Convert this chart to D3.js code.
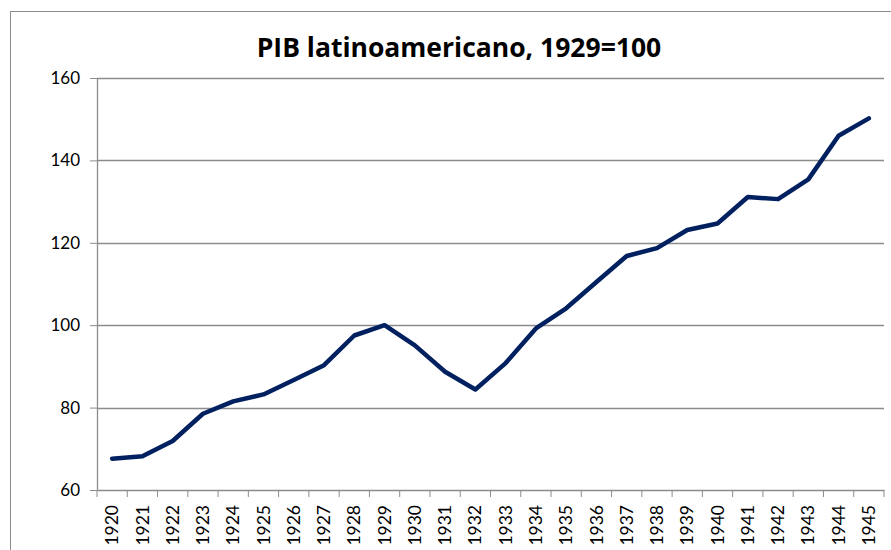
<!DOCTYPE html>
<html>
<head>
<meta charset="utf-8">
<script src="https://cdn.jsdelivr.net/npm/d3@7"></script>
<style>
  body { margin: 0; background: #fff; }
  svg text { font-family: Lato, "Open Sans", sans-serif; }
</style>
</head>
<body>
<div id="chart"></div>
<script>
// data
var years = ["1920", "1921", "1922", "1923", "1924", "1925", "1926", "1927", "1928", "1929",
  "1930", "1931", "1932", "1933", "1934", "1935", "1936", "1937", "1938", "1939",
  "1940", "1941", "1942", "1943", "1944", "1945"];
var pib = [67.6, 68.2, 71.9, 78.5, 81.5, 83.2, 86.7, 90.3, 97.5, 100,
  95.1, 88.7, 84.4, 90.8, 99.2, 104.1, 110.5, 116.8, 118.7, 123.1,
  124.7, 131.1, 130.6, 135.4, 146.0, 150.2];
var yTicks = [60, 80, 100, 120, 140, 160];

var svgWidth = 891;
var svgHeight = 550;
var margin = { top: 78, right: 7, bottom: 60, left: 97 };
var width = svgWidth - margin.left - margin.right;
var height = svgHeight - margin.top - margin.bottom;

var svg = d3.select("#chart")
  .append("svg")
  .attr("width", svgWidth)
  .attr("height", svgHeight);

// chart frame
svg.append("rect")
  .attr("x", 10.5)
  .attr("y", 11.5)
  .attr("width", 900)
  .attr("height", 600)
  .attr("fill", "none")
  .attr("stroke", "#8c8c8c")
  .attr("stroke-width", 1);

svg.append("text")
  .attr("x", 459)
  .attr("y", 57)
  .attr("text-anchor", "middle")
  .style("font-family", "'Open Sans', sans-serif")
  .style("font-size", "26.5px")
  .style("font-weight", "bold")
  .text("PIB latinoamericano, 1929=100");

var chartGroup = svg.append("g")
  .attr("transform", `translate(${margin.left}, ${margin.top})`);

var xScale = d3.scaleBand()
  .domain(years)
  .range([0, width]);

var yScale = d3.scaleLinear()
  .domain([60, 160])
  .range([height, 0]);

// gridlines
chartGroup.selectAll(".grid")
  .data(yTicks.slice(1))
  .enter()
  .append("line")
  .attr("x1", 0)
  .attr("x2", width)
  .attr("y1", d => Math.round(yScale(d)) + 0.5)
  .attr("y2", d => Math.round(yScale(d)) + 0.5)
  .attr("stroke", "#8c8c8c")
  .attr("stroke-width", 1.3);

// y axis
var leftAxis = d3.axisLeft(yScale)
  .tickValues(yTicks)
  .tickSizeInner(7)
  .tickSizeOuter(0)
  .tickPadding(10);

var yAxis = chartGroup.append("g").call(leftAxis);
yAxis.selectAll("text").attr("font-size", "17px").attr("fill", "#000");

// x axis, ticks between categories
var bottomAxis = d3.axisBottom(xScale).tickSize(0).tickPadding(10);
var xAxis = chartGroup.append("g")
  .attr("transform", `translate(0, ${height})`)
  .call(bottomAxis);

xAxis.selectAll(".tick").append("line")
  .attr("x1", -xScale.bandwidth() / 2)
  .attr("x2", -xScale.bandwidth() / 2)
  .attr("y1", 0)
  .attr("y2", 7)
  .attr("stroke", "#8c8c8c");

xAxis.append("line")
  .attr("x1", width)
  .attr("x2", width)
  .attr("y1", 0)
  .attr("y2", 7)
  .attr("stroke", "#8c8c8c");

xAxis.selectAll("text")
  .attr("font-size", "17.5px")
  .attr("fill", "#000")
  .attr("transform", "rotate(-90)")
  .attr("text-anchor", "end")
  .attr("x", -15)
  .attr("y", 0)
  .attr("dy", "0.35em");

chartGroup.selectAll(".domain")
  .attr("stroke", "#8c8c8c")
  .attr("stroke-width", 1.3);
chartGroup.selectAll(".tick line").attr("stroke", "#8c8c8c");

// line
var line = d3.line()
  .x((d, i) => xScale(years[i]) + xScale.bandwidth() / 2)
  .y(d => yScale(d));

chartGroup.append("path")
  .datum(pib)
  .attr("d", line)
  .attr("fill", "none")
  .attr("stroke", "#002060")
  .attr("stroke-width", 4.5)
  .attr("stroke-linejoin", "round")
  .attr("stroke-linecap", "round");
</script>
</body>
</html>
